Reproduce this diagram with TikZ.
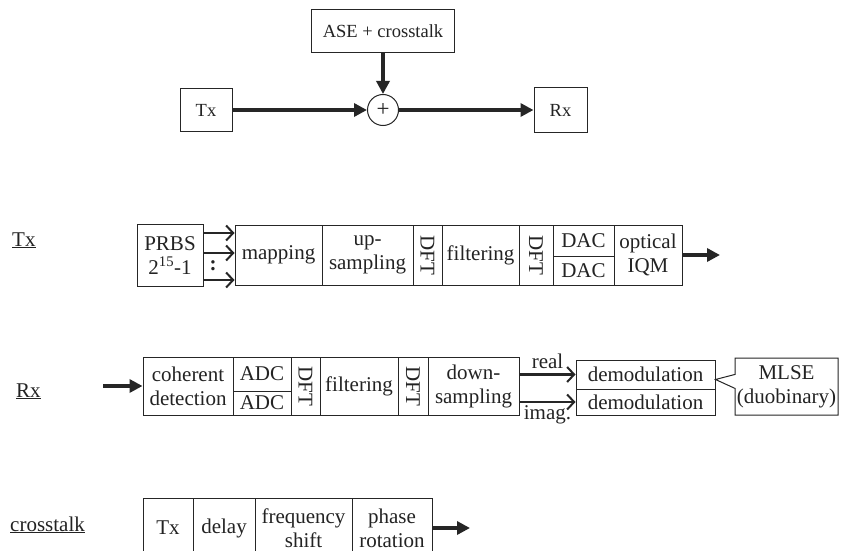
\documentclass[tikz,border=0pt]{standalone}
\usepackage{fontspec}
\setmainfont{Liberation Serif}
\usepackage{graphicx}
\usepackage{xcolor}
\usepackage{tikz}
\usetikzlibrary{arrows.meta, positioning, calc, shapes.callouts}
\definecolor{LinkDark}{RGB}{38, 38, 38}
\definecolor{TextDark}{RGB}{35, 35, 35}

\tikzset{
  cell/.style={draw=LinkDark, line width=1pt, inner sep=0pt, align=center,
    text=TextDark, font=\fontsize{21}{24}\selectfont},
  topcell/.style={cell, font=\fontsize{18.5}{21}\selectfont},
  fatarrow/.style={draw=LinkDark, line width=3.4pt, -{Triangle[length=13pt,width=13pt]}},
  thinarrow/.style={draw=LinkDark, line width=2.4pt, -{Straight Barb[length=7pt,width=15pt,line width=2pt]}},
  rowlabel/.style={anchor=base west, inner sep=0pt, text=TextDark, font=\fontsize{21}{24}\selectfont}
}

\begin{document}
\begin{tikzpicture}[x=1pt,y=-1pt]
  \path[use as bounding box] (0,0) rectangle (841,551);
  \fill[white] (0,0) rectangle (841,551);

  % channel overview
  \node[topcell, minimum width=143, minimum height=43] (ase) at (383,31.5) {ASE + crosstalk};
  \node[topcell, minimum width=52, minimum height=43] (ttx) at (206,110) {Tx};
  \node[draw=LinkDark, line width=1pt, circle, minimum size=31, inner sep=0pt,
        text=TextDark, font=\fontsize{23}{24}\selectfont] (sum) at (383,110) {+};
  \node[topcell, minimum width=53, minimum height=44] (trx) at (560.5,110) {Rx};
  \draw[fatarrow] (ttx) -- (sum);
  \draw[fatarrow] (sum) -- (trx);
  \draw[fatarrow] (ase) -- (sum);

  % transmitter
  \node[rowlabel] (lbltx) at (12,246) {\underline{Tx}};
  \node[cell, minimum width=66, minimum height=62] (prbs) at (170,255.5) {PRBS\\2\textsuperscript{15}-1};
  \node[cell, minimum width=87, minimum height=60] (map) at (278.5,255) {mapping};
  \node[cell, minimum width=91, minimum height=60] (ups) at (367.5,255) {up-\\sampling};
  \node[cell, minimum width=29, minimum height=60] (dfta) at (427.5,255) {\rotatebox{-90}{DFT}};
  \node[cell, minimum width=77, minimum height=60] (filta) at (480.5,255) {filtering};
  \node[cell, minimum width=34, minimum height=60] (dftb) at (536,255) {\rotatebox{-90}{DFT}};
  \node[cell, minimum width=61, minimum height=31] (daca) at (583.5,240.5) {DAC};
  \node[cell, minimum width=61, minimum height=29] (dacb) at (583.5,270.5) {DAC};
  \node[cell, minimum width=68, minimum height=60] (iqm) at (648,255) {optical\\IQM};
  \coordinate (txout) at (720,255);
  \draw[thinarrow] ([yshift=22.5pt]prbs.east) -- ([yshift=22pt]map.west);
  \draw[thinarrow] ([yshift=2.5pt]prbs.east) -- ([yshift=2pt]map.west);
  \draw[thinarrow] ([yshift=-24.5pt]prbs.east) -- ([yshift=-25pt]map.west);
  \node[inner sep=0pt, text=TextDark, font=\fontsize{21}{24}\bfseries] (dots) at (213,266) {:};
  \draw[fatarrow] (iqm) -- (txout);

  % receiver
  \node[rowlabel] (lblrx) at (16,397) {\underline{Rx}};
  \coordinate (rxin) at (103,386);
  \node[cell, minimum width=90, minimum height=58] (coh) at (188,386) {coherent\\detection};
  \node[cell, minimum width=58, minimum height=34] (adca) at (262,374) {ADC};
  \node[cell, minimum width=58, minimum height=24] (adcb) at (262,403) {ADC};
  \node[cell, minimum width=29, minimum height=58] (dftc) at (305.5,386) {\rotatebox{-90}{DFT}};
  \node[cell, minimum width=78, minimum height=58] (filtb) at (359,386) {filtering};
  \node[cell, minimum width=30, minimum height=58] (dftd) at (413,386) {\rotatebox{-90}{DFT}};
  \node[cell, minimum width=91, minimum height=58] (down) at (473.5,386) {down-\\sampling};
  \node[cell, minimum width=139, minimum height=29] (dema) at (645.5,374.5) {demodulation};
  \node[cell, minimum width=139, minimum height=26] (demb) at (645.5,402) {demodulation};
  \node[cell, rectangle callout, callout absolute pointer={([yshift=-5pt]dema.east)},
        callout pointer width=14pt, minimum width=103, minimum height=57] (mlse) at (786.5,386.5) {MLSE\\(duobinary)};
  \draw[fatarrow] (rxin) -- (coh);
  \draw[thinarrow] (down.east |- dema.west) -- node[above=1pt, text=TextDark, font=\fontsize{21}{24}\selectfont] {real} (dema.west);
  \draw[thinarrow] (down.east |- demb.west) -- node[below=-1pt, text=TextDark, font=\fontsize{21}{24}\selectfont] {imag.} (demb.west);

  % crosstalk generation
  \node[rowlabel] (lblct) at (10,531) {\underline{crosstalk}};
  \node[cell, minimum width=50, minimum height=60] (ctx) at (168,528) {Tx};
  \node[cell, minimum width=62, minimum height=60] (dly) at (224,528) {delay};
  \node[cell, minimum width=97, minimum height=60] (frq) at (303.5,528) {frequency\\shift};
  \node[cell, minimum width=80, minimum height=60] (rot) at (392,528) {phase\\rotation};
  \coordinate (ctout) at (470,528);
  \draw[fatarrow] (rot) -- (ctout);
\end{tikzpicture}
\end{document}
